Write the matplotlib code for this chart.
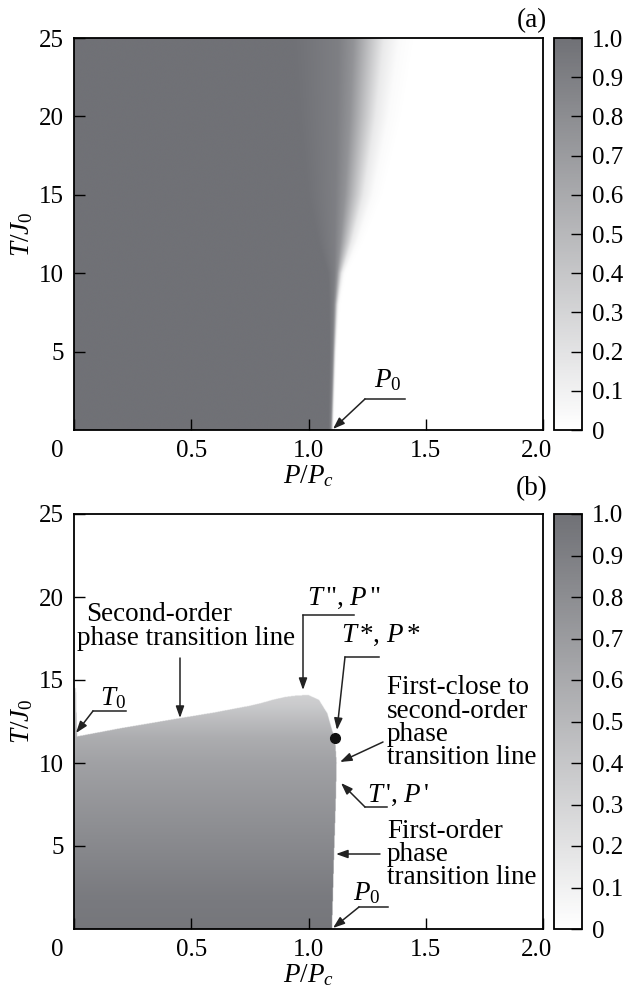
import numpy as np
import matplotlib
matplotlib.use('Agg')
import matplotlib.pyplot as plt
from matplotlib.colors import LinearSegmentedColormap

plt.rcParams['font.family'] = ['Liberation Serif', 'DejaVu Serif']
plt.rcParams['mathtext.fontset'] = 'custom'
plt.rcParams['mathtext.rm'] = 'Liberation Serif'
plt.rcParams['mathtext.it'] = 'Liberation Serif:italic'
plt.rcParams['mathtext.bf'] = 'Liberation Serif:bold'

# ---------------- data ----------------
x_ticks = [0.0, 0.5, 1.0, 1.5, 2.0]
x_ticklabels = ['', '0.5', '1.0', '1.5', '']
y_ticks = [5, 10, 15, 20, 25]
y_ticklabels = ['5', '10', '15', '20', '25']
cbar_ticks = [0.0, 0.1, 0.2, 0.3, 0.4, 0.5, 0.6, 0.7, 0.8, 0.9, 1.0]
cbar_labels = ['0', '0.1', '0.2', '0.3', '0.4', '0.5', '0.6', '0.7', '0.8', '0.9', '1.0']

# panel (a): position and width of the dark -> white band vs temperature
a_T = [0, 5, 8, 10, 12, 15, 20, 25]
a_P_mid = [1.100, 1.110, 1.118, 1.132, 1.160, 1.195, 1.232, 1.258]
a_width = [0.003, 0.004, 0.006, 0.010, 0.024, 0.040, 0.055, 0.065]
# value profile across the band (offset in band widths -> value)
a_prof_x = [-5.0, -3.5, -2.0, -1.0, 0.0, 1.0, 2.0, 3.0]
a_prof_v = [1.00, 0.95, 0.90, 0.76, 0.45, 0.15, 0.03, 0.00]

# panel (b): ordered region boundaries
b_top_P = [0.0, 0.008, 0.012, 0.20, 0.45, 0.60, 0.70, 0.75, 0.80, 0.85, 0.90, 0.95, 1.00, 1.20]
b_top_T = [14.5, 14.5, 11.6, 12.1, 12.7, 13.05, 13.32, 13.45, 13.62, 13.82, 13.98, 14.07, 14.1, 14.1]
b_right_T = [0.0, 4.0, 8.0, 10.0, 11.5, 12.0, 13.0, 13.8, 14.1]
b_right_P = [1.100, 1.108, 1.117, 1.120, 1.113, 1.100, 1.080, 1.045, 1.000]
# value inside the ordered region versus temperature
b_val_T = [0.0, 2.0, 5.0, 8.0, 10.0, 11.5, 12.5, 13.5, 14.5]
b_val_v = [0.96, 0.93, 0.83, 0.73, 0.66, 0.58, 0.48, 0.37, 0.30]

# special points
P_star, T_star = 1.113, 11.5

# ---------------- build fields ----------------
P = np.linspace(0, 2, 1201)
T = np.linspace(0, 25, 901)
PP, TT = np.meshgrid(P, T)

mid = np.interp(TT, a_T, a_P_mid)
wid = np.interp(TT, a_T, a_width)
field_a = np.interp((PP - mid) / wid, a_prof_x, a_prof_v)

top = np.interp(PP, b_top_P, b_top_T)
right = np.interp(TT, b_right_T, b_right_P)
inside = (TT <= top) & (PP <= right)
field_b = np.where(inside, np.interp(TT, b_val_T, b_val_v), 0.0)

cmap = LinearSegmentedColormap.from_list('g', ['#ffffff', '#707176'])

# ---------------- figure ----------------
W, H = 627, 994
fig = plt.figure(figsize=(W / 100, H / 100), dpi=100)

def fx(px):
    return px / W

def fy(py):
    return 1 - py / H

ax_left, ax_right = 74, 543
cb_left, cb_right = 554, 582
panels = [(38, 430), (514, 929)]

FS = 18      # tick labels
FA = 19.5    # annotations

def style_axis(ax, white_x, white_y):
    ax.set_xlim(0, 2)
    ax.set_ylim(0, 25)
    ax.set_xticks(x_ticks)
    ax.set_xticklabels(x_ticklabels)
    ax.set_yticks(y_ticks)
    ax.set_yticklabels(y_ticklabels)
    ax.tick_params(direction='in', length=8, width=1.0, labelsize=FS, pad=7)
    for t, v in zip(ax.xaxis.get_major_ticks(), x_ticks):
        t.tick1line.set_color('white' if v in white_x else 'black')
    for t, v in zip(ax.yaxis.get_major_ticks(), y_ticks):
        t.tick1line.set_color('white' if v in white_y else 'black')
    for s in ax.spines.values():
        s.set_linewidth(1.3)
    ax.set_xlabel(r'$P/P_c$', fontsize=FA, labelpad=1)
    ax.set_ylabel(r'$T/J_0$', fontsize=FA, labelpad=3)
    ax.annotate('0', xy=(0, 0), xycoords=('data', 'axes fraction'),
                xytext=(-12, -7.5), textcoords='offset points',
                ha='center', va='top', fontsize=FS)
    ax.annotate('2.0', xy=(2, 0), xycoords=('data', 'axes fraction'),
                xytext=(-5, -7.5), textcoords='offset points',
                ha='center', va='top', fontsize=FS)

axes = []
for i, (yt, yb) in enumerate(panels):
    ax = fig.add_axes([fx(ax_left), fy(yb), fx(ax_right - ax_left), (yb - yt) / H])
    cax = fig.add_axes([fx(cb_left), fy(yb), fx(cb_right - cb_left), (yb - yt) / H])
    field = field_a if i == 0 else field_b
    im = ax.imshow(field, origin='lower', extent=[0, 2, 0, 25], aspect='auto',
                   cmap=cmap, vmin=0, vmax=1, interpolation='bilinear')
    cb = fig.colorbar(im, cax=cax, ticks=cbar_ticks)
    cb.ax.set_yticklabels(cbar_labels)
    cb.ax.tick_params(direction='in', length=8, width=1.0, labelsize=FS, pad=7,
                      right=True, left=False)
    for t, v in zip(cb.ax.yaxis.get_major_ticks(), cbar_ticks):
        t.tick2line.set_color('white' if v >= 0.5 else 'black')
    cb.outline.set_linewidth(1.3)
    axes.append(ax)

style_axis(axes[0], white_x=[0.5, 1.0], white_y=[5, 10, 15, 20, 25])
style_axis(axes[1], white_x=[0.5, 1.0], white_y=[5, 10])

fig.text(fx(532), fy(21), '(a)', ha='center', va='center', fontsize=FA)
fig.text(fx(532), fy(489), '(b)', ha='center', va='center', fontsize=FA)

arrow_kw = dict(arrowstyle='-|>,head_length=0.7,head_width=0.25', color='#222222',
                lw=1.1, shrinkA=0, shrinkB=0)
LC = '#222222'

def px2a(x, y):
    return ((x - ax_left) / (ax_right - ax_left) * 2, (430 - y) / (430 - 38) * 25)

def px2b(x, y):
    return ((x - ax_left) / (ax_right - ax_left) * 2, (929 - y) / (929 - 514) * 25)

def leader(ax, conv, text_xy, text, hline, tail, tip, ha='center'):
    ax.text(*conv(*text_xy), text, ha=ha, va='center', fontsize=FA)
    (x1, x2, yl) = hline
    a, b = conv(x1, yl), conv(x2, yl)
    ax.plot([a[0], b[0]], [a[1], b[1]], color=LC, lw=1.1, clip_on=False)
    ax.annotate('', xy=conv(*tip), xytext=conv(*tail), arrowprops=arrow_kw,
                annotation_clip=False)

axa, axb = axes

# panel (a)
leader(axa, px2a, (388, 380), r'$P_0$', (365, 405, 399), (365, 399), (333, 429))

# panel (b)
leader(axb, px2b, (113, 698), r'$T_0$', (93, 126, 711), (93, 711), (76, 733))
axb.text(*px2b(86, 615), 'Second-order', ha='left', va='center', fontsize=FA)
axb.text(*px2b(77, 639), 'phase transition line', ha='left', va='center', fontsize=FA)
axb.annotate('', xy=px2b(180, 718), xytext=px2b(180, 658), arrowprops=arrow_kw)

leader(axb, px2b, (344, 598), r'$T\,$", $P\,$"', (303, 354, 615), (303, 615), (303, 690))
leader(axb, px2b, (381, 635), r'$T\,$*, $P\,$*', (345, 379, 657), (345, 657), (337, 730))
axb.plot([P_star], [T_star], 'o', color='#111111', ms=7, zorder=5)

for k, s in enumerate(['First-close to', 'second-order', 'phase', 'transition line']):
    axb.text(*px2b(387, 688 + 23.3 * k), s, ha='left', va='center', fontsize=FA)
axb.annotate('', xy=px2b(340, 762), xytext=px2b(383, 742), arrowprops=arrow_kw)

leader(axb, px2b, (398, 795), r"$T\,$', $P\,$'", (365, 387, 807), (365, 807), (341, 783))

for k, s in enumerate(['First-order', 'phase', 'transition line']):
    axb.text(*px2b(387, 832 + 22.5 * k), s, ha='left', va='center', fontsize=FA)
axb.annotate('', xy=px2b(336, 854), xytext=px2b(380, 854), arrowprops=arrow_kw)

leader(axb, px2b, (367, 893), r'$P_0$', (359, 388, 907), (359, 907), (333, 928))

fig.savefig('out.png', dpi=100)
